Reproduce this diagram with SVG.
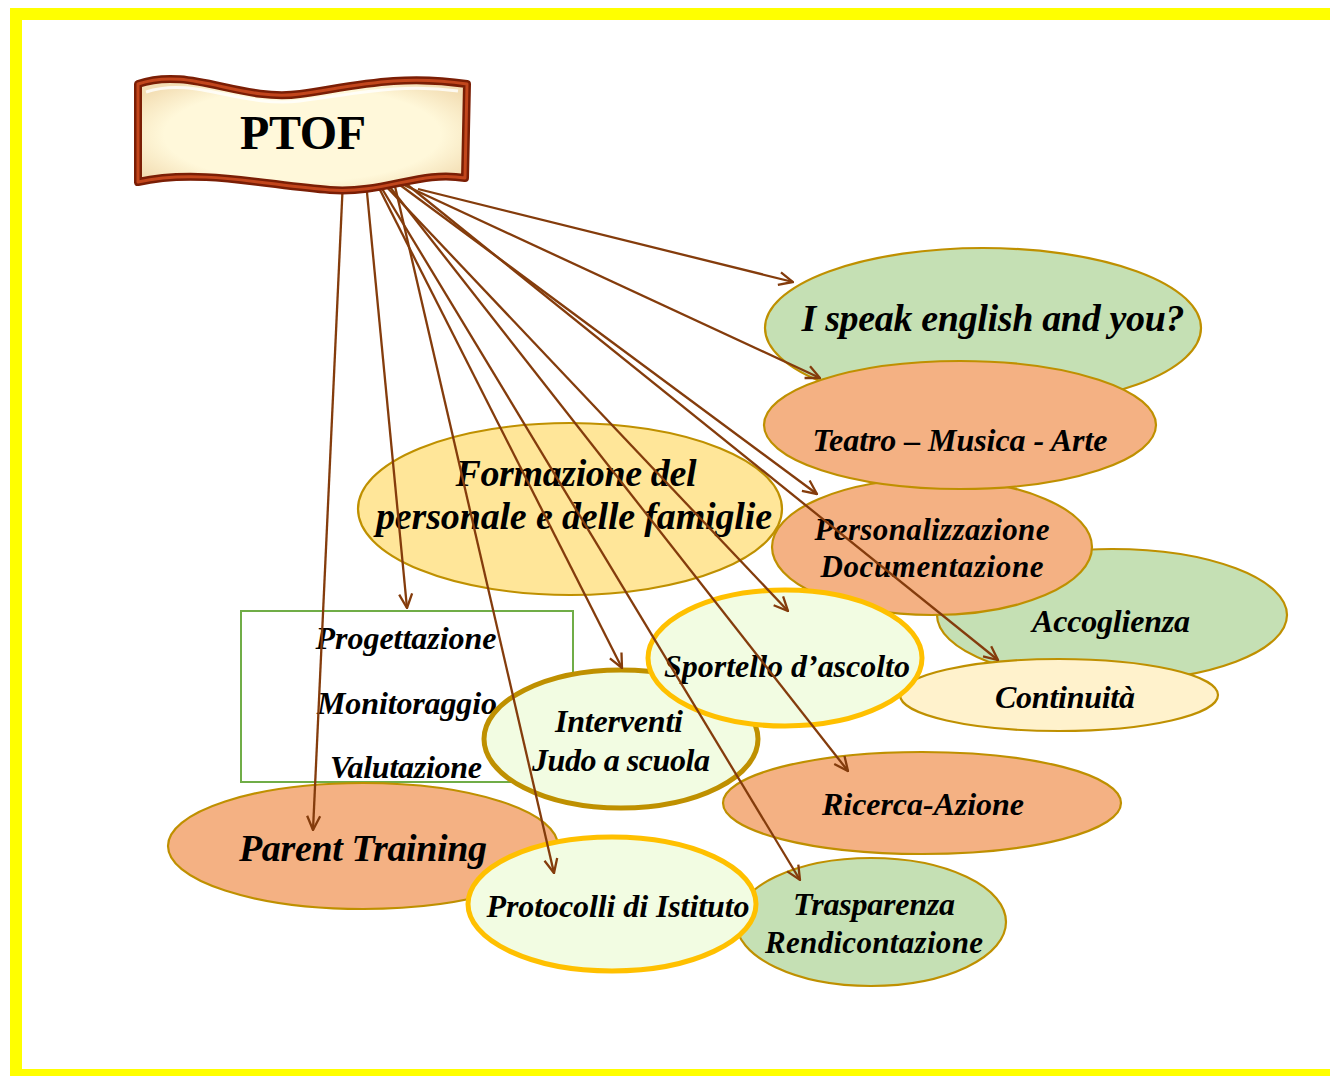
<svg xmlns="http://www.w3.org/2000/svg" width="1330" height="1076" viewBox="0 0 1330 1076">
  <defs>
    <style>
      .lbl { font-family: "Liberation Serif", "Times New Roman", serif; font-weight: bold; font-style: italic; fill: #000; text-anchor: middle; }
      .s31 { font-size: 32px; }
      .s37 { font-size: 38px; }
      .thin { stroke: #BF9000; stroke-width: 2.2; }
      .gold { stroke: #FFC000; stroke-width: 5; }
      .ochre { stroke: #BF9000; stroke-width: 5; }
      .green { fill: #C5E0B4; }
      .orange { fill: #F4B183; }
      .pale { fill: #F2FCE2; }
      .conn line { stroke: #843C0C; stroke-width: 2.3; marker-end: url(#arrow); }
    </style>
    <marker id="arrow" viewBox="0 0 16 16" refX="15" refY="8" markerWidth="16" markerHeight="16" markerUnits="userSpaceOnUse" orient="auto">
      <path d="M1,1.5 L15,8 L1,14.5" fill="none" stroke="#843C0C" stroke-width="2.3"/>
    </marker>
    <radialGradient id="bannerFill" cx="0.5" cy="0.5" r="0.6">
      <stop offset="0.7" stop-color="#FFF8DA"/>
      <stop offset="1" stop-color="#F3DEB4"/>
    </radialGradient>
  </defs>

  <!-- page frame -->
  <rect x="16" y="14" width="1340" height="1061" fill="#FFFFFF" stroke="#FFFF00" stroke-width="12"/>

  <!-- nodes -->
  <g id="speak">
    <ellipse cx="983" cy="328" rx="218" ry="80" class="green thin"/>
    <text x="993" y="331" class="lbl s37" textLength="383">I speak english and you?</text>
  </g>
  <g id="accoglienza">
    <ellipse cx="1112" cy="615" rx="175" ry="66" class="green thin"/>
    <text x="1111" y="632" class="lbl s31" textLength="158">Accoglienza</text>
  </g>
  <g id="personalizzazione">
    <ellipse cx="932" cy="547" rx="160" ry="68" class="orange thin"/>
    <text x="932" y="540" class="lbl" font-size="31" textLength="235">Personalizzazione</text>
    <text x="932" y="577" class="lbl" font-size="31" textLength="223">Documentazione</text>
  </g>
  <g id="teatro">
    <ellipse cx="960" cy="425" rx="196" ry="64" class="orange thin"/>
    <text x="960" y="451" class="lbl s31" textLength="295">Teatro – Musica - Arte</text>
  </g>
  <g id="formazione">
    <ellipse cx="570" cy="509" rx="212" ry="86" fill="#FFE699" class="thin"/>
    <text x="576" y="486" class="lbl" font-size="38" textLength="241">Formazione del</text>
    <text x="574" y="529" class="lbl" font-size="38" textLength="396">personale e delle famiglie</text>
  </g>
  <g id="continuita">
    <ellipse cx="1059" cy="695" rx="159" ry="36" fill="#FFF2CC" class="thin"/>
    <text x="1065" y="708" class="lbl s31" textLength="140">Continuità</text>
  </g>
  <g id="valutazione">
    <rect x="241" y="611" width="332" height="171" fill="#FFFFFF" stroke="#70AD47" stroke-width="2"/>
    <text x="406" y="649" class="lbl s31" textLength="181">Progettazione</text>
    <text x="407" y="714" class="lbl s31" textLength="180">Monitoraggio</text>
    <text x="406" y="778" class="lbl s31" textLength="152">Valutazione</text>
  </g>
  <g id="ricerca">
    <ellipse cx="922" cy="803" rx="199" ry="51" class="orange thin"/>
    <text x="923" y="815" class="lbl s31" textLength="202">Ricerca-Azione</text>
  </g>
  <g id="parent">
    <ellipse cx="363" cy="846" rx="195" ry="63" class="orange thin"/>
    <text x="363" y="861" class="lbl s37" textLength="248">Parent Training</text>
  </g>
  <g id="interventi">
    <ellipse cx="621" cy="739" rx="137" ry="69" class="pale ochre"/>
    <text x="619" y="732" class="lbl s31" textLength="128">Interventi</text>
    <text x="621" y="771" class="lbl s31" textLength="178">Judo a scuola</text>
  </g>
  <g id="sportello">
    <ellipse cx="785" cy="658" rx="137" ry="68" class="pale gold"/>
    <text x="787" y="677" class="lbl s31" textLength="246">Sportello d’ascolto</text>
  </g>
  <g id="trasparenza">
    <ellipse cx="871" cy="922" rx="135" ry="64" class="green thin"/>
    <text x="874" y="915" class="lbl s31" textLength="162">Trasparenza</text>
    <text x="874" y="953" class="lbl" font-size="31" textLength="218">Rendicontazione</text>
  </g>
  <g id="protocolli">
    <ellipse cx="612" cy="904" rx="144" ry="67" class="pale gold"/>
    <text x="618" y="917" class="lbl s31" textLength="263">Protocolli di Istituto</text>
  </g>

  <!-- connectors fanning out from the PTOF banner -->
  <g id="connectors" class="conn">
    <line x1="343" y1="180" x2="313" y2="830"/>
    <line x1="366" y1="182" x2="407" y2="608"/>
    <line x1="394" y1="182" x2="554" y2="873"/>
    <line x1="376" y1="182" x2="622" y2="668"/>
    <line x1="378" y1="182" x2="800" y2="880"/>
    <line x1="386" y1="182" x2="848" y2="771"/>
    <line x1="382" y1="182" x2="788" y2="611"/>
    <line x1="404" y1="182" x2="998" y2="660"/>
    <line x1="396" y1="182" x2="817" y2="494"/>
    <line x1="404" y1="185" x2="820" y2="378"/>
    <line x1="418" y1="189" x2="793" y2="282"/>
  </g>

  <!-- PTOF title banner -->
  <g id="ptof">
    <path d="M138,84 C190,66 240,102 300,94 C355,86 400,74 467,84 L465,178 C420,170 385,194 330,190 C270,186 200,168 138,182 Z"
          fill="url(#bannerFill)" stroke="#7A1E05" stroke-width="8" stroke-linejoin="round"/>
    <path d="M138,84 C190,66 240,102 300,94 C355,86 400,74 467,84 L465,178 C420,170 385,194 330,190 C270,186 200,168 138,182 Z"
          fill="none" stroke="#C2461C" stroke-width="3" stroke-linejoin="round"/>
    <path d="M146,92 C195,76 240,108 300,101 C355,94 400,83 458,91" fill="none" stroke="#FFFFFF" stroke-width="3" opacity="0.8"/>
    <text x="303" y="149" font-family="'Liberation Serif', 'Times New Roman', serif" font-weight="bold" font-size="48" text-anchor="middle" fill="#000" textLength="126">PTOF</text>
  </g>
</svg>
